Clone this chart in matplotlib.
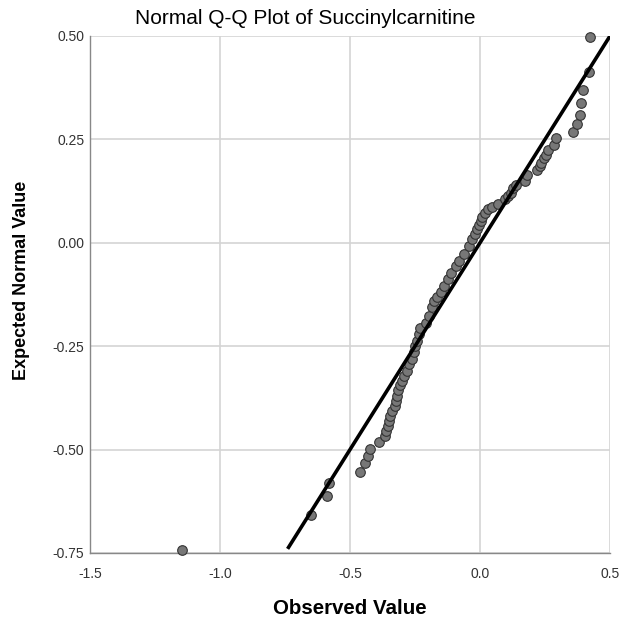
import matplotlib
matplotlib.use('Agg')
import matplotlib.pyplot as plt

observed = [
    -1.146, -0.651, -0.589, -0.581, -0.460, -0.441, -0.429, -0.423, -0.387,
    -0.364, -0.361, -0.355, -0.349, -0.345, -0.340, -0.327, -0.323, -0.320,
    -0.314, -0.308, -0.300, -0.291, -0.282, -0.272, -0.262, -0.253, -0.250,
    -0.244, -0.234, -0.230, -0.208, -0.195, -0.185, -0.176, -0.164, -0.151,
    -0.138, -0.125, -0.112, -0.093, -0.080, -0.061, -0.042, -0.029, -0.019,
    -0.010, -0.004, 0.003, 0.009, 0.019, 0.032, 0.047, 0.069, 0.098, 0.109,
    0.120, 0.128, 0.137, 0.172, 0.179, 0.220, 0.229, 0.236, 0.245, 0.252,
    0.262, 0.286, 0.292, 0.356, 0.374, 0.386, 0.390, 0.396, 0.420, 0.424,
]
expected = [
    -0.742, -0.659, -0.613, -0.580, -0.555, -0.532, -0.516, -0.498, -0.481,
    -0.467, -0.454, -0.442, -0.430, -0.418, -0.406, -0.394, -0.382, -0.370,
    -0.357, -0.345, -0.333, -0.321, -0.309, -0.293, -0.281, -0.265, -0.249,
    -0.237, -0.221, -0.205, -0.193, -0.176, -0.156, -0.140, -0.132, -0.120,
    -0.104, -0.088, -0.072, -0.056, -0.043, -0.027, -0.007, 0.009, 0.021,
    0.033, 0.043, 0.053, 0.063, 0.073, 0.081, 0.087, 0.093, 0.105, 0.112,
    0.121, 0.132, 0.140, 0.150, 0.164, 0.176, 0.185, 0.194, 0.205, 0.213,
    0.224, 0.237, 0.253, 0.269, 0.287, 0.309, 0.337, 0.369, 0.414, 0.498,
]
line_x = [-0.74, 0.5]
line_y = [-0.74, 0.5]

x_ticks = [-1.5, -1.0, -0.5, 0.0, 0.5]
x_labels = ['-1.5', '-1.0', '-0.5', '0.0', '0.5']
y_ticks = [-0.75, -0.5, -0.25, 0.0, 0.25, 0.5]
y_labels = ['-0.75', '-0.50', '-0.25', '0.00', '0.25', '0.50']

plt.rcParams['font.family'] = ['Liberation Sans', 'DejaVu Sans']

fig = plt.figure(figsize=(6.23, 6.24), dpi=100)
ax = fig.add_axes([90 / 623, 71 / 624, 520 / 623, 517 / 624])

ax.set_xlim(-1.5, 0.5)
ax.set_ylim(-0.75, 0.5)
ax.set_xticks(x_ticks)
ax.set_xticklabels(x_labels)
ax.set_yticks(y_ticks)
ax.set_yticklabels(y_labels)
ax.tick_params(length=0, labelsize=10, colors='#333333')
ax.tick_params(axis='x', pad=10)
ax.tick_params(axis='y', pad=4)
ax.grid(True, color='#d4d4d4', linewidth=1.2)
ax.set_axisbelow(True)

for side in ['top', 'right']:
    ax.spines[side].set_visible(False)
for side in ['left', 'bottom']:
    ax.spines[side].set_color('#888888')
    ax.spines[side].set_linewidth(1.0)

ax.scatter(observed, expected, s=48, facecolor='#777777',
           edgecolor='#333333', linewidth=0.8, zorder=3, clip_on=False)
ax.plot(line_x, line_y, color='black', linewidth=2.6, zorder=4,
        solid_capstyle='butt')

fig.text(305 / 623, 1 - 18 / 624, 'Normal Q-Q Plot of Succinylcarnitine',
         ha='center', va='center', fontsize=15)
fig.text(350 / 623, 1 - 608 / 624, 'Observed Value', ha='center',
         va='center', fontsize=14.8, fontweight='bold')
fig.text(22 / 623, 1 - 280 / 624, 'Expected Normal Value', ha='center',
         va='center', rotation=90, fontsize=13, fontweight='bold')

fig.savefig('out.png', dpi=100)
